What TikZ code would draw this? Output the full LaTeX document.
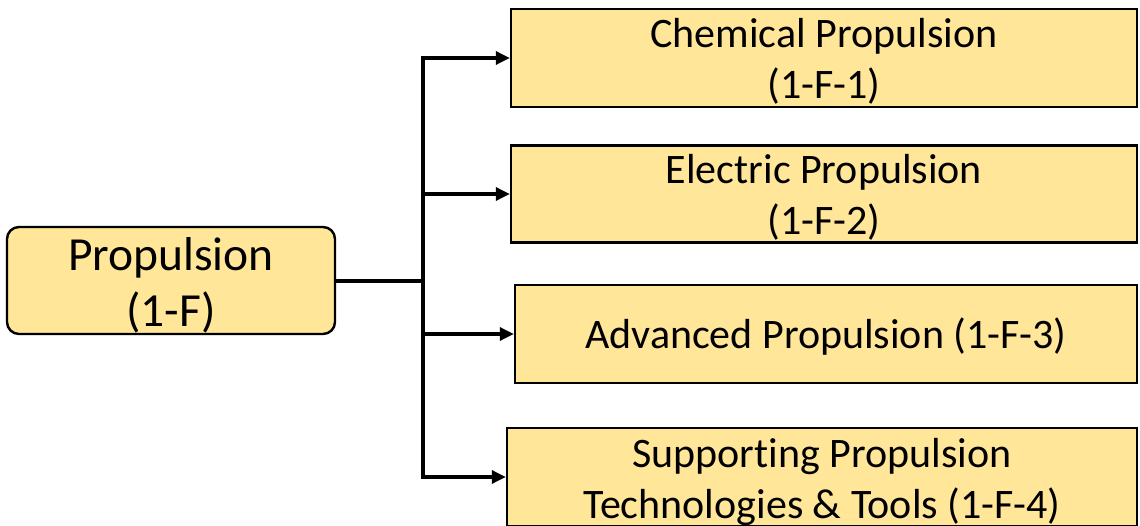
\documentclass[tikz,border=0pt]{standalone}
\usepackage{fontspec}
\setmainfont[Ligatures={NoCommon}]{Carlito}
\usetikzlibrary{arrows.meta}
\definecolor{boxfill}{HTML}{FFE699}
% centred block of lines, lowered by the optional amount, taking no room of its own
\newcommand\boxlines[2][-11pt]{\raisebox{#1}[0pt][0pt]{\begin{tabular}{@{}c@{}}#2\end{tabular}}}
\tikzset{
  box/.style={draw=black, line width=2.4pt, fill=boxfill, inner sep=0pt,
    font=\fontsize{42}{51}\selectfont},
  rootbox/.style={box, rounded corners=12pt, font=\fontsize{47.5}{56}\selectfont},
  arrowlink/.style={draw=black, line width=3.2pt, -{Triangle[length=14pt,width=13pt]}},
  trunkline/.style={draw=black, line width=3.2pt}
}
\begin{document}
\begin{tikzpicture}[x=1pt, y=-1pt]
  \useasboundingbox (0,0) rectangle (1140,526);
  % parent node
  \node[rootbox, minimum width=328pt, minimum height=107pt] (root) at (171,280.5)
    {\boxlines[-13pt]{Propulsion\\(1-F)}};
  % child nodes
  \node[box, minimum width=626pt, minimum height=98pt] (c1) at (824,58)
    {\boxlines{Chemical Propulsion\\(1-F-1)}};
  \node[box, minimum width=626pt, minimum height=97pt] (c2) at (824,194)
    {\boxlines{Electric Propulsion\\(1-F-2)}};
  \node[box, minimum width=622pt, minimum height=98pt] (c3) at (826,334)
    {\boxlines{Advanced Propulsion (1-F-3)}};
  \node[box, minimum width=630pt, minimum height=98pt] (c4) at (822,477)
    {\boxlines[-12.5pt]{Supporting Propulsion\\Technologies \& Tools (1-F-4)}};
  % branching connectors
  \coordinate (j) at (423,281);
  \path[trunkline] (root.east |- j) -- (j);
  \path[arrowlink] (j) |- (c1.west);
  \path[arrowlink] (j) |- (c2.west);
  \path[arrowlink] (j) |- (c3.west);
  \path[arrowlink] (j) |- (c4.west);
\end{tikzpicture}
\end{document}
